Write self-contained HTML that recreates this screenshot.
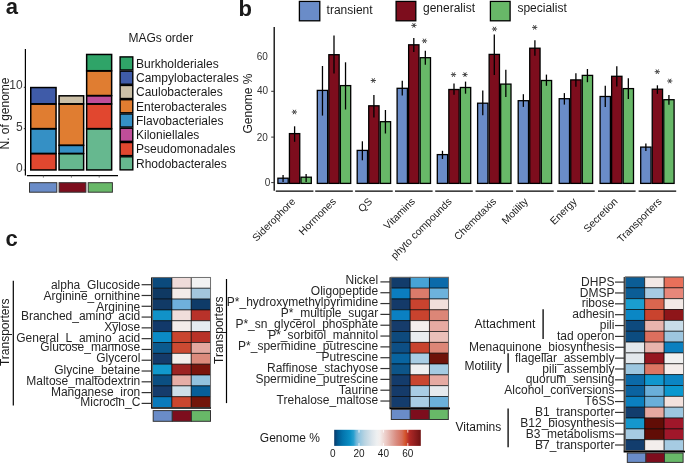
<!DOCTYPE html>
<html><head><meta charset="utf-8"><style>
html,body{margin:0;padding:0;background:#fff;width:685px;height:463px;overflow:hidden}
svg{display:block;will-change:transform}
text{font-family:"Liberation Sans", sans-serif}
</style></head><body>
<svg width="685" height="463" viewBox="0 0 685 463" font-family='"Liberation Sans", sans-serif'><text x="5.80" y="14.00" font-size="22" text-anchor="start" fill="#1a1a1a" font-weight="bold" >a</text>
<rect x="30.75" y="153.71" width="25.30" height="16.24" fill="#e1472f" stroke="#000" stroke-width="1.5"/>
<rect x="30.75" y="128.90" width="25.30" height="24.51" fill="#3590c5" stroke="#000" stroke-width="1.5"/>
<rect x="30.75" y="104.09" width="25.30" height="24.51" fill="#e07d31" stroke="#000" stroke-width="1.5"/>
<rect x="30.75" y="87.55" width="25.30" height="16.24" fill="#3f5ba8" stroke="#000" stroke-width="1.5"/>
<rect x="59.05" y="153.71" width="24.60" height="16.24" fill="#66b88f" stroke="#000" stroke-width="1.5"/>
<rect x="59.05" y="145.44" width="24.60" height="7.97" fill="#3590c5" stroke="#000" stroke-width="1.5"/>
<rect x="59.05" y="104.09" width="24.60" height="41.05" fill="#e07d31" stroke="#000" stroke-width="1.5"/>
<rect x="59.05" y="95.82" width="24.60" height="7.97" fill="#cbbfa6" stroke="#000" stroke-width="1.5"/>
<rect x="86.65" y="128.90" width="25.00" height="41.05" fill="#66b88f" stroke="#000" stroke-width="1.5"/>
<rect x="86.65" y="104.09" width="25.00" height="24.51" fill="#e1472f" stroke="#000" stroke-width="1.5"/>
<rect x="86.65" y="95.82" width="25.00" height="7.97" fill="#c04e99" stroke="#000" stroke-width="1.5"/>
<rect x="86.65" y="71.01" width="25.00" height="24.51" fill="#e07d31" stroke="#000" stroke-width="1.5"/>
<rect x="86.65" y="54.47" width="25.00" height="16.24" fill="#2fa468" stroke="#000" stroke-width="1.5"/>
<line x1="25.40" y1="49.00" x2="25.40" y2="175.40" stroke="#000" stroke-width="1.2"/>
<line x1="26.90" y1="175.70" x2="118.00" y2="175.70" stroke="#000" stroke-width="1.2"/>
<line x1="23.80" y1="170.00" x2="25.40" y2="170.00" stroke="#333" stroke-width="1"/>
<text x="22.60" y="172.10" font-size="12" text-anchor="end" fill="#3a3a3a" font-weight="normal" >0</text>
<line x1="23.80" y1="128.65" x2="25.40" y2="128.65" stroke="#333" stroke-width="1"/>
<text x="22.60" y="130.95" font-size="12" text-anchor="end" fill="#3a3a3a" font-weight="normal" >5</text>
<line x1="23.80" y1="87.30" x2="25.40" y2="87.30" stroke="#333" stroke-width="1"/>
<text x="22.60" y="88.60" font-size="12" text-anchor="end" fill="#3a3a3a" font-weight="normal" >10</text>
<line x1="43.40" y1="175.70" x2="43.40" y2="177.60" stroke="#555" stroke-width="0.8"/>
<line x1="71.40" y1="175.70" x2="71.40" y2="177.60" stroke="#555" stroke-width="0.8"/>
<line x1="99.20" y1="175.70" x2="99.20" y2="177.60" stroke="#555" stroke-width="0.8"/>
<text transform="translate(9.2,113.5) rotate(-90)" font-size="12" text-anchor="middle" fill="#1a1a1a">N. of genome</text>
<rect x="29.50" y="182.70" width="27.30" height="9.50" fill="#6a8cc8" stroke="#333" stroke-width="1"/>
<rect x="59.10" y="182.70" width="26.80" height="9.50" fill="#7d0d1d" stroke="#333" stroke-width="1"/>
<rect x="88.20" y="182.70" width="24.20" height="9.50" fill="#68b868" stroke="#333" stroke-width="1"/>
<text x="128.50" y="41.60" font-size="12" text-anchor="start" fill="#1a1a1a" font-weight="normal" >MAGs order</text>
<rect x="120.10" y="56.90" width="12.70" height="13.07" fill="#2fa468" stroke="#000" stroke-width="1.4"/>
<text x="136.00" y="67.73" font-size="12" text-anchor="start" fill="#1a1a1a" font-weight="normal" >Burkholderiales</text>
<rect x="120.10" y="71.17" width="12.70" height="13.07" fill="#3f5ba8" stroke="#000" stroke-width="1.4"/>
<text x="136.00" y="82.01" font-size="12" text-anchor="start" fill="#1a1a1a" font-weight="normal" >Campylobacterales</text>
<rect x="120.10" y="85.44" width="12.70" height="13.07" fill="#cbbfa6" stroke="#000" stroke-width="1.4"/>
<text x="136.00" y="96.28" font-size="12" text-anchor="start" fill="#1a1a1a" font-weight="normal" >Caulobacterales</text>
<rect x="120.10" y="99.71" width="12.70" height="13.07" fill="#e07d31" stroke="#000" stroke-width="1.4"/>
<text x="136.00" y="110.55" font-size="12" text-anchor="start" fill="#1a1a1a" font-weight="normal" >Enterobacterales</text>
<rect x="120.10" y="113.98" width="12.70" height="13.07" fill="#3590c5" stroke="#000" stroke-width="1.4"/>
<text x="136.00" y="124.82" font-size="12" text-anchor="start" fill="#1a1a1a" font-weight="normal" >Flavobacteriales</text>
<rect x="120.10" y="128.25" width="12.70" height="13.07" fill="#c04e99" stroke="#000" stroke-width="1.4"/>
<text x="136.00" y="139.09" font-size="12" text-anchor="start" fill="#1a1a1a" font-weight="normal" >Kiloniellales</text>
<rect x="120.10" y="142.52" width="12.70" height="13.07" fill="#e1472f" stroke="#000" stroke-width="1.4"/>
<text x="136.00" y="153.35" font-size="12" text-anchor="start" fill="#1a1a1a" font-weight="normal" >Pseudomonadales</text>
<rect x="120.10" y="156.79" width="12.70" height="13.07" fill="#66b88f" stroke="#000" stroke-width="1.4"/>
<text x="136.00" y="167.62" font-size="12" text-anchor="start" fill="#1a1a1a" font-weight="normal" >Rhodobacterales</text>
<text x="238.40" y="15.80" font-size="22" text-anchor="start" fill="#1a1a1a" font-weight="bold" >b</text>
<rect x="299.40" y="1.40" width="20.40" height="19.40" fill="#6a8cc8" stroke="#000" stroke-width="1.3"/>
<text x="326.60" y="13.90" font-size="12" text-anchor="start" fill="#1a1a1a" font-weight="normal" >transient</text>
<rect x="396.10" y="1.40" width="19.70" height="19.40" fill="#7d0d1d" stroke="#000" stroke-width="1.3"/>
<text x="423.00" y="12.40" font-size="12" text-anchor="start" fill="#1a1a1a" font-weight="normal" >generalist</text>
<rect x="490.40" y="1.40" width="19.70" height="19.40" fill="#68b868" stroke="#000" stroke-width="1.3"/>
<text x="517.40" y="12.40" font-size="12" text-anchor="start" fill="#1a1a1a" font-weight="normal" >specialist</text>
<line x1="274.20" y1="27.00" x2="274.20" y2="190.70" stroke="#000" stroke-width="1.3"/>
<line x1="271.20" y1="182.60" x2="274.20" y2="182.60" stroke="#333" stroke-width="1"/>
<text x="270.20" y="185.70" font-size="10" text-anchor="end" fill="#333" font-weight="normal" >0</text>
<line x1="271.20" y1="137.10" x2="274.20" y2="137.10" stroke="#333" stroke-width="1"/>
<text x="267.80" y="141.40" font-size="10" text-anchor="end" fill="#333" font-weight="normal" >20</text>
<line x1="271.20" y1="91.30" x2="274.20" y2="91.30" stroke="#333" stroke-width="1"/>
<text x="268.20" y="93.80" font-size="10" text-anchor="end" fill="#333" font-weight="normal" >40</text>
<text x="267.90" y="60.10" font-size="10" text-anchor="end" fill="#333" font-weight="normal" >60</text>
<text transform="translate(252.4,103.5) rotate(-90)" font-size="12" text-anchor="middle" fill="#1a1a1a">Genome %</text>
<rect x="277.90" y="178.20" width="10.33" height="5.20" fill="#6a8cc8" stroke="#000" stroke-width="1.3"/>
<rect x="289.43" y="133.60" width="10.33" height="49.80" fill="#7d0d1d" stroke="#000" stroke-width="1.3"/>
<rect x="300.97" y="177.20" width="10.33" height="6.20" fill="#68b868" stroke="#000" stroke-width="1.3"/>
<line x1="283.07" y1="175.00" x2="283.07" y2="182.00" stroke="#000" stroke-width="1.3"/>
<line x1="294.60" y1="126.30" x2="294.60" y2="141.80" stroke="#000" stroke-width="1.3"/>
<line x1="306.13" y1="173.90" x2="306.13" y2="182.00" stroke="#000" stroke-width="1.3"/>
<path d="M291.80,112.00L297.00,112.00M293.10,109.75L295.70,114.25M295.70,109.75L293.10,114.25" stroke="#444" stroke-width="1.0" fill="none"/>
<line x1="275.80" y1="191.10" x2="313.40" y2="191.10" stroke="#000" stroke-width="1.3"/>
<text transform="translate(296.10,202.20) rotate(-45)" font-size="10.3" text-anchor="end" fill="#222">Siderophore</text>
<rect x="317.30" y="90.40" width="10.33" height="93.00" fill="#6a8cc8" stroke="#000" stroke-width="1.3"/>
<rect x="328.83" y="54.70" width="10.33" height="128.70" fill="#7d0d1d" stroke="#000" stroke-width="1.3"/>
<rect x="340.37" y="85.60" width="10.33" height="97.80" fill="#68b868" stroke="#000" stroke-width="1.3"/>
<line x1="322.47" y1="66.00" x2="322.47" y2="115.60" stroke="#000" stroke-width="1.3"/>
<line x1="334.00" y1="35.60" x2="334.00" y2="73.50" stroke="#000" stroke-width="1.3"/>
<line x1="345.53" y1="62.30" x2="345.53" y2="109.50" stroke="#000" stroke-width="1.3"/>
<line x1="315.20" y1="191.10" x2="352.80" y2="191.10" stroke="#000" stroke-width="1.3"/>
<text transform="translate(336.60,202.20) rotate(-45)" font-size="10.3" text-anchor="end" fill="#222">Hormones</text>
<rect x="357.20" y="150.40" width="10.33" height="33.00" fill="#6a8cc8" stroke="#000" stroke-width="1.3"/>
<rect x="368.73" y="105.80" width="10.33" height="77.60" fill="#7d0d1d" stroke="#000" stroke-width="1.3"/>
<rect x="380.27" y="121.70" width="10.33" height="61.70" fill="#68b868" stroke="#000" stroke-width="1.3"/>
<line x1="362.37" y1="141.30" x2="362.37" y2="160.30" stroke="#000" stroke-width="1.3"/>
<line x1="373.90" y1="95.10" x2="373.90" y2="117.60" stroke="#000" stroke-width="1.3"/>
<line x1="385.43" y1="110.00" x2="385.43" y2="133.50" stroke="#000" stroke-width="1.3"/>
<path d="M370.70,80.50L375.90,80.50M372.00,78.25L374.60,82.75M374.60,78.25L372.00,82.75" stroke="#444" stroke-width="1.0" fill="none"/>
<line x1="355.10" y1="191.10" x2="392.70" y2="191.10" stroke="#000" stroke-width="1.3"/>
<text transform="translate(372.90,202.20) rotate(-45)" font-size="10.3" text-anchor="end" fill="#222">QS</text>
<rect x="397.10" y="88.30" width="10.33" height="95.10" fill="#6a8cc8" stroke="#000" stroke-width="1.3"/>
<rect x="408.63" y="44.80" width="10.33" height="138.60" fill="#7d0d1d" stroke="#000" stroke-width="1.3"/>
<rect x="420.17" y="57.70" width="10.33" height="125.70" fill="#68b868" stroke="#000" stroke-width="1.3"/>
<line x1="402.27" y1="80.80" x2="402.27" y2="95.60" stroke="#000" stroke-width="1.3"/>
<line x1="413.80" y1="38.10" x2="413.80" y2="52.10" stroke="#000" stroke-width="1.3"/>
<line x1="425.33" y1="50.70" x2="425.33" y2="64.80" stroke="#000" stroke-width="1.3"/>
<path d="M411.30,25.40L416.50,25.40M412.60,23.15L415.20,27.65M415.20,23.15L412.60,27.65" stroke="#444" stroke-width="1.0" fill="none"/>
<path d="M421.90,40.90L427.10,40.90M423.20,38.65L425.80,43.15M425.80,38.65L423.20,43.15" stroke="#444" stroke-width="1.0" fill="none"/>
<line x1="395.00" y1="191.10" x2="432.60" y2="191.10" stroke="#000" stroke-width="1.3"/>
<text transform="translate(415.60,202.20) rotate(-45)" font-size="10.3" text-anchor="end" fill="#222">Vitamins</text>
<rect x="437.30" y="154.60" width="10.33" height="28.80" fill="#6a8cc8" stroke="#000" stroke-width="1.3"/>
<rect x="448.83" y="89.50" width="10.33" height="93.90" fill="#7d0d1d" stroke="#000" stroke-width="1.3"/>
<rect x="460.37" y="87.50" width="10.33" height="95.90" fill="#68b868" stroke="#000" stroke-width="1.3"/>
<line x1="442.47" y1="150.80" x2="442.47" y2="159.00" stroke="#000" stroke-width="1.3"/>
<line x1="454.00" y1="83.60" x2="454.00" y2="94.80" stroke="#000" stroke-width="1.3"/>
<line x1="465.53" y1="81.60" x2="465.53" y2="93.70" stroke="#000" stroke-width="1.3"/>
<path d="M450.90,74.60L456.10,74.60M452.20,72.35L454.80,76.85M454.80,72.35L452.20,76.85" stroke="#444" stroke-width="1.0" fill="none"/>
<path d="M462.40,74.60L467.60,74.60M463.70,72.35L466.30,76.85M466.30,72.35L463.70,76.85" stroke="#444" stroke-width="1.0" fill="none"/>
<line x1="435.20" y1="191.10" x2="472.80" y2="191.10" stroke="#000" stroke-width="1.3"/>
<text transform="translate(452.50,202.20) rotate(-45)" font-size="10.3" text-anchor="end" fill="#222">phyto compounds</text>
<rect x="477.60" y="103.20" width="10.33" height="80.20" fill="#6a8cc8" stroke="#000" stroke-width="1.3"/>
<rect x="489.13" y="54.40" width="10.33" height="129.00" fill="#7d0d1d" stroke="#000" stroke-width="1.3"/>
<rect x="500.67" y="84.10" width="10.33" height="99.30" fill="#68b868" stroke="#000" stroke-width="1.3"/>
<line x1="482.77" y1="90.60" x2="482.77" y2="115.30" stroke="#000" stroke-width="1.3"/>
<line x1="494.30" y1="34.40" x2="494.30" y2="75.10" stroke="#000" stroke-width="1.3"/>
<line x1="505.83" y1="69.80" x2="505.83" y2="97.00" stroke="#000" stroke-width="1.3"/>
<path d="M491.90,29.00L497.10,29.00M493.20,26.75L495.80,31.25M495.80,26.75L493.20,31.25" stroke="#444" stroke-width="1.0" fill="none"/>
<line x1="475.50" y1="191.10" x2="513.10" y2="191.10" stroke="#000" stroke-width="1.3"/>
<text transform="translate(496.80,202.20) rotate(-45)" font-size="10.3" text-anchor="end" fill="#222">Chemotaxis</text>
<rect x="518.20" y="100.70" width="10.33" height="82.70" fill="#6a8cc8" stroke="#000" stroke-width="1.3"/>
<rect x="529.73" y="48.20" width="10.33" height="135.20" fill="#7d0d1d" stroke="#000" stroke-width="1.3"/>
<rect x="541.27" y="80.50" width="10.33" height="102.90" fill="#68b868" stroke="#000" stroke-width="1.3"/>
<line x1="523.37" y1="94.20" x2="523.37" y2="106.90" stroke="#000" stroke-width="1.3"/>
<line x1="534.90" y1="40.30" x2="534.90" y2="55.80" stroke="#000" stroke-width="1.3"/>
<line x1="546.43" y1="74.60" x2="546.43" y2="85.80" stroke="#000" stroke-width="1.3"/>
<path d="M532.10,27.40L537.30,27.40M533.40,25.15L536.00,29.65M536.00,25.15L533.40,29.65" stroke="#444" stroke-width="1.0" fill="none"/>
<line x1="516.10" y1="191.10" x2="553.70" y2="191.10" stroke="#000" stroke-width="1.3"/>
<text transform="translate(528.60,202.20) rotate(-45)" font-size="10.3" text-anchor="end" fill="#222">Motility</text>
<rect x="559.20" y="98.70" width="10.33" height="84.70" fill="#6a8cc8" stroke="#000" stroke-width="1.3"/>
<rect x="570.73" y="79.90" width="10.33" height="103.50" fill="#7d0d1d" stroke="#000" stroke-width="1.3"/>
<rect x="582.27" y="75.40" width="10.33" height="108.00" fill="#68b868" stroke="#000" stroke-width="1.3"/>
<line x1="564.37" y1="93.10" x2="564.37" y2="104.60" stroke="#000" stroke-width="1.3"/>
<line x1="575.90" y1="73.20" x2="575.90" y2="86.70" stroke="#000" stroke-width="1.3"/>
<line x1="587.43" y1="69.00" x2="587.43" y2="82.20" stroke="#000" stroke-width="1.3"/>
<line x1="557.10" y1="191.10" x2="594.70" y2="191.10" stroke="#000" stroke-width="1.3"/>
<text transform="translate(577.40,202.20) rotate(-45)" font-size="10.3" text-anchor="end" fill="#222">Energy</text>
<rect x="600.10" y="96.50" width="10.33" height="86.90" fill="#6a8cc8" stroke="#000" stroke-width="1.3"/>
<rect x="611.63" y="76.30" width="10.33" height="107.10" fill="#7d0d1d" stroke="#000" stroke-width="1.3"/>
<rect x="623.17" y="88.60" width="10.33" height="94.80" fill="#68b868" stroke="#000" stroke-width="1.3"/>
<line x1="605.27" y1="85.80" x2="605.27" y2="106.90" stroke="#000" stroke-width="1.3"/>
<line x1="616.80" y1="66.20" x2="616.80" y2="86.40" stroke="#000" stroke-width="1.3"/>
<line x1="628.33" y1="78.20" x2="628.33" y2="99.00" stroke="#000" stroke-width="1.3"/>
<line x1="598.00" y1="191.10" x2="635.60" y2="191.10" stroke="#000" stroke-width="1.3"/>
<text transform="translate(618.40,202.20) rotate(-45)" font-size="10.3" text-anchor="end" fill="#222">Secretion</text>
<rect x="640.70" y="147.10" width="10.33" height="36.30" fill="#6a8cc8" stroke="#000" stroke-width="1.3"/>
<rect x="652.23" y="89.20" width="10.33" height="94.20" fill="#7d0d1d" stroke="#000" stroke-width="1.3"/>
<rect x="663.77" y="99.70" width="10.33" height="83.70" fill="#68b868" stroke="#000" stroke-width="1.3"/>
<line x1="645.87" y1="143.60" x2="645.87" y2="151.00" stroke="#000" stroke-width="1.3"/>
<line x1="657.40" y1="85.30" x2="657.40" y2="93.90" stroke="#000" stroke-width="1.3"/>
<line x1="668.93" y1="95.00" x2="668.93" y2="104.80" stroke="#000" stroke-width="1.3"/>
<path d="M654.70,71.70L659.90,71.70M656.00,69.45L658.60,73.95M658.60,69.45L656.00,73.95" stroke="#444" stroke-width="1.0" fill="none"/>
<path d="M667.20,81.00L672.40,81.00M668.50,78.75L671.10,83.25M671.10,78.75L668.50,83.25" stroke="#444" stroke-width="1.0" fill="none"/>
<line x1="638.60" y1="191.10" x2="676.20" y2="191.10" stroke="#000" stroke-width="1.3"/>
<text transform="translate(662.40,202.20) rotate(-45)" font-size="10.3" text-anchor="end" fill="#222">Transporters</text>
<text x="5.50" y="246.10" font-size="22" text-anchor="start" fill="#1a1a1a" font-weight="bold" >c</text>
<rect x="152.60" y="277.40" width="19.33" height="10.85" fill="#0b4a7c" stroke="rgba(0,0,0,0.7)" stroke-width="0.85"/>
<rect x="171.93" y="277.40" width="19.33" height="10.85" fill="#eedbd9" stroke="rgba(0,0,0,0.7)" stroke-width="0.85"/>
<rect x="191.27" y="277.40" width="19.33" height="10.85" fill="#f2f2f2" stroke="rgba(0,0,0,0.7)" stroke-width="0.85"/>
<rect x="152.60" y="288.25" width="19.33" height="10.85" fill="#0f3963" stroke="rgba(0,0,0,0.7)" stroke-width="0.85"/>
<rect x="171.93" y="288.25" width="19.33" height="10.85" fill="#f3ece9" stroke="rgba(0,0,0,0.7)" stroke-width="0.85"/>
<rect x="191.27" y="288.25" width="19.33" height="10.85" fill="#a3c6dc" stroke="rgba(0,0,0,0.7)" stroke-width="0.85"/>
<rect x="152.60" y="299.10" width="19.33" height="10.85" fill="#113a66" stroke="rgba(0,0,0,0.7)" stroke-width="0.85"/>
<rect x="171.93" y="299.10" width="19.33" height="10.85" fill="#6fb0dc" stroke="rgba(0,0,0,0.7)" stroke-width="0.85"/>
<rect x="191.27" y="299.10" width="19.33" height="10.85" fill="#0f3b68" stroke="rgba(0,0,0,0.7)" stroke-width="0.85"/>
<rect x="152.60" y="309.95" width="19.33" height="10.85" fill="#1192c8" stroke="rgba(0,0,0,0.7)" stroke-width="0.85"/>
<rect x="171.93" y="309.95" width="19.33" height="10.85" fill="#f0dedb" stroke="rgba(0,0,0,0.7)" stroke-width="0.85"/>
<rect x="191.27" y="309.95" width="19.33" height="10.85" fill="#b8322a" stroke="rgba(0,0,0,0.7)" stroke-width="0.85"/>
<rect x="152.60" y="320.80" width="19.33" height="10.85" fill="#12396a" stroke="rgba(0,0,0,0.7)" stroke-width="0.85"/>
<rect x="171.93" y="320.80" width="19.33" height="10.85" fill="#f3ecea" stroke="rgba(0,0,0,0.7)" stroke-width="0.85"/>
<rect x="191.27" y="320.80" width="19.33" height="10.85" fill="#e5ebf0" stroke="rgba(0,0,0,0.7)" stroke-width="0.85"/>
<rect x="152.60" y="331.65" width="19.33" height="10.85" fill="#0b8bc6" stroke="rgba(0,0,0,0.7)" stroke-width="0.85"/>
<rect x="171.93" y="331.65" width="19.33" height="10.85" fill="#c9452f" stroke="rgba(0,0,0,0.7)" stroke-width="0.85"/>
<rect x="191.27" y="331.65" width="19.33" height="10.85" fill="#b83228" stroke="rgba(0,0,0,0.7)" stroke-width="0.85"/>
<rect x="152.60" y="342.50" width="19.33" height="10.85" fill="#0b5a8e" stroke="rgba(0,0,0,0.7)" stroke-width="0.85"/>
<rect x="171.93" y="342.50" width="19.33" height="10.85" fill="#cc4a32" stroke="rgba(0,0,0,0.7)" stroke-width="0.85"/>
<rect x="191.27" y="342.50" width="19.33" height="10.85" fill="#e3a8a0" stroke="rgba(0,0,0,0.7)" stroke-width="0.85"/>
<rect x="152.60" y="353.35" width="19.33" height="10.85" fill="#153b6a" stroke="rgba(0,0,0,0.7)" stroke-width="0.85"/>
<rect x="171.93" y="353.35" width="19.33" height="10.85" fill="#f3eeec" stroke="rgba(0,0,0,0.7)" stroke-width="0.85"/>
<rect x="191.27" y="353.35" width="19.33" height="10.85" fill="#dc8a7c" stroke="rgba(0,0,0,0.7)" stroke-width="0.85"/>
<rect x="152.60" y="364.20" width="19.33" height="10.85" fill="#1199cc" stroke="rgba(0,0,0,0.7)" stroke-width="0.85"/>
<rect x="171.93" y="364.20" width="19.33" height="10.85" fill="#9c2323" stroke="rgba(0,0,0,0.7)" stroke-width="0.85"/>
<rect x="191.27" y="364.20" width="19.33" height="10.85" fill="#7a140c" stroke="rgba(0,0,0,0.7)" stroke-width="0.85"/>
<rect x="152.60" y="375.05" width="19.33" height="10.85" fill="#0b4f82" stroke="rgba(0,0,0,0.7)" stroke-width="0.85"/>
<rect x="171.93" y="375.05" width="19.33" height="10.85" fill="#e6aea7" stroke="rgba(0,0,0,0.7)" stroke-width="0.85"/>
<rect x="191.27" y="375.05" width="19.33" height="10.85" fill="#92c2de" stroke="rgba(0,0,0,0.7)" stroke-width="0.85"/>
<rect x="152.60" y="385.90" width="19.33" height="10.85" fill="#163c6c" stroke="rgba(0,0,0,0.7)" stroke-width="0.85"/>
<rect x="171.93" y="385.90" width="19.33" height="10.85" fill="#cddfe9" stroke="rgba(0,0,0,0.7)" stroke-width="0.85"/>
<rect x="191.27" y="385.90" width="19.33" height="10.85" fill="#075f98" stroke="rgba(0,0,0,0.7)" stroke-width="0.85"/>
<rect x="152.60" y="396.75" width="19.33" height="10.85" fill="#0a7abb" stroke="rgba(0,0,0,0.7)" stroke-width="0.85"/>
<rect x="171.93" y="396.75" width="19.33" height="10.85" fill="#c9462f" stroke="rgba(0,0,0,0.7)" stroke-width="0.85"/>
<rect x="191.27" y="396.75" width="19.33" height="10.85" fill="#72150a" stroke="rgba(0,0,0,0.7)" stroke-width="0.85"/>
<rect x="152.60" y="277.40" width="58.00" height="130.20" fill="none" stroke="#777" stroke-width="0.8"/>
<line x1="151.60" y1="277.40" x2="151.60" y2="408.10" stroke="#000" stroke-width="1"/>
<line x1="141.60" y1="284.70" x2="151.60" y2="284.70" stroke="#333" stroke-width="1.2"/>
<text x="140.30" y="289.00" font-size="12" text-anchor="end" fill="#262626" font-weight="normal" >alpha_Glucoside</text>
<line x1="141.60" y1="295.49" x2="151.60" y2="295.49" stroke="#333" stroke-width="1.2"/>
<text x="140.30" y="299.79" font-size="12" text-anchor="end" fill="#262626" font-weight="normal" >Arginine_ornithine</text>
<line x1="141.60" y1="306.28" x2="151.60" y2="306.28" stroke="#333" stroke-width="1.2"/>
<text x="140.30" y="310.58" font-size="12" text-anchor="end" fill="#262626" font-weight="normal" >Arginine</text>
<line x1="141.60" y1="317.07" x2="151.60" y2="317.07" stroke="#333" stroke-width="1.2"/>
<text x="140.30" y="320.37" font-size="12" text-anchor="end" fill="#262626" font-weight="normal" >Branched_amino_acid</text>
<line x1="141.60" y1="327.86" x2="151.60" y2="327.86" stroke="#333" stroke-width="1.2"/>
<text x="140.30" y="331.06" font-size="12" text-anchor="end" fill="#262626" font-weight="normal" >Xylose</text>
<line x1="141.60" y1="338.65" x2="151.60" y2="338.65" stroke="#333" stroke-width="1.2"/>
<text x="140.30" y="342.15" font-size="12" text-anchor="end" fill="#262626" font-weight="normal" >General_L_amino_acid</text>
<line x1="141.60" y1="349.44" x2="151.60" y2="349.44" stroke="#333" stroke-width="1.2"/>
<text x="140.30" y="351.44" font-size="12" text-anchor="end" fill="#262626" font-weight="normal" >Glucose_mannose</text>
<line x1="141.60" y1="360.23" x2="151.60" y2="360.23" stroke="#333" stroke-width="1.2"/>
<text x="140.30" y="362.33" font-size="12" text-anchor="end" fill="#262626" font-weight="normal" >Glycerol</text>
<line x1="141.60" y1="371.02" x2="151.60" y2="371.02" stroke="#333" stroke-width="1.2"/>
<text x="140.30" y="374.32" font-size="12" text-anchor="end" fill="#262626" font-weight="normal" >Glycine_betaine</text>
<line x1="141.60" y1="381.81" x2="151.60" y2="381.81" stroke="#333" stroke-width="1.2"/>
<text x="140.30" y="385.11" font-size="12" text-anchor="end" fill="#262626" font-weight="normal" >Maltose_maltodextrin</text>
<line x1="141.60" y1="392.60" x2="151.60" y2="392.60" stroke="#333" stroke-width="1.2"/>
<text x="140.30" y="395.80" font-size="12" text-anchor="end" fill="#262626" font-weight="normal" >Manganese_iron</text>
<line x1="141.60" y1="403.39" x2="151.60" y2="403.39" stroke="#333" stroke-width="1.2"/>
<text x="140.30" y="406.19" font-size="12" text-anchor="end" fill="#262626" font-weight="normal" >Microcin_C</text>
<line x1="151.20" y1="408.10" x2="211.00" y2="408.10" stroke="#000" stroke-width="1.2"/>
<rect x="153.20" y="410.60" width="19.10" height="10.70" fill="#6a8cc8" stroke="#333" stroke-width="1"/>
<rect x="172.30" y="410.60" width="19.10" height="10.70" fill="#7d0d1d" stroke="#333" stroke-width="1"/>
<rect x="191.40" y="410.60" width="19.10" height="10.70" fill="#68b868" stroke="#333" stroke-width="1"/>
<text transform="translate(9.0,332.3) rotate(-90)" font-size="12" text-anchor="middle" fill="#1a1a1a">Transporters</text>
<line x1="13.30" y1="280.70" x2="13.30" y2="405.50" stroke="#000" stroke-width="1.2"/>
<rect x="391.00" y="277.30" width="19.20" height="10.84" fill="#123c6b" stroke="rgba(0,0,0,0.7)" stroke-width="0.85"/>
<rect x="410.20" y="277.30" width="19.20" height="10.84" fill="#47a3d6" stroke="rgba(0,0,0,0.7)" stroke-width="0.85"/>
<rect x="429.40" y="277.30" width="19.20" height="10.84" fill="#0b6aaa" stroke="rgba(0,0,0,0.7)" stroke-width="0.85"/>
<rect x="391.00" y="288.14" width="19.20" height="10.84" fill="#0b7dc0" stroke="rgba(0,0,0,0.7)" stroke-width="0.85"/>
<rect x="410.20" y="288.14" width="19.20" height="10.84" fill="#da7b6b" stroke="rgba(0,0,0,0.7)" stroke-width="0.85"/>
<rect x="429.40" y="288.14" width="19.20" height="10.84" fill="#6db2dc" stroke="rgba(0,0,0,0.7)" stroke-width="0.85"/>
<rect x="391.00" y="298.98" width="19.20" height="10.84" fill="#143a69" stroke="rgba(0,0,0,0.7)" stroke-width="0.85"/>
<rect x="410.20" y="298.98" width="19.20" height="10.84" fill="#c9432f" stroke="rgba(0,0,0,0.7)" stroke-width="0.85"/>
<rect x="429.40" y="298.98" width="19.20" height="10.84" fill="#f1dfdb" stroke="rgba(0,0,0,0.7)" stroke-width="0.85"/>
<rect x="391.00" y="309.82" width="19.20" height="10.84" fill="#0a80c2" stroke="rgba(0,0,0,0.7)" stroke-width="0.85"/>
<rect x="410.20" y="309.82" width="19.20" height="10.84" fill="#c8432e" stroke="rgba(0,0,0,0.7)" stroke-width="0.85"/>
<rect x="429.40" y="309.82" width="19.20" height="10.84" fill="#dc8677" stroke="rgba(0,0,0,0.7)" stroke-width="0.85"/>
<rect x="391.00" y="320.67" width="19.20" height="10.84" fill="#163c6b" stroke="rgba(0,0,0,0.7)" stroke-width="0.85"/>
<rect x="410.20" y="320.67" width="19.20" height="10.84" fill="#f3eeec" stroke="rgba(0,0,0,0.7)" stroke-width="0.85"/>
<rect x="429.40" y="320.67" width="19.20" height="10.84" fill="#e7aaa2" stroke="rgba(0,0,0,0.7)" stroke-width="0.85"/>
<rect x="391.00" y="331.51" width="19.20" height="10.84" fill="#0e4a7d" stroke="rgba(0,0,0,0.7)" stroke-width="0.85"/>
<rect x="410.20" y="331.51" width="19.20" height="10.84" fill="#e9edef" stroke="rgba(0,0,0,0.7)" stroke-width="0.85"/>
<rect x="429.40" y="331.51" width="19.20" height="10.84" fill="#ebc0b9" stroke="rgba(0,0,0,0.7)" stroke-width="0.85"/>
<rect x="391.00" y="342.35" width="19.20" height="10.84" fill="#0d4f85" stroke="rgba(0,0,0,0.7)" stroke-width="0.85"/>
<rect x="410.20" y="342.35" width="19.20" height="10.84" fill="#c8432e" stroke="rgba(0,0,0,0.7)" stroke-width="0.85"/>
<rect x="429.40" y="342.35" width="19.20" height="10.84" fill="#dc8677" stroke="rgba(0,0,0,0.7)" stroke-width="0.85"/>
<rect x="391.00" y="353.19" width="19.20" height="10.84" fill="#0864a0" stroke="rgba(0,0,0,0.7)" stroke-width="0.85"/>
<rect x="410.20" y="353.19" width="19.20" height="10.84" fill="#a9cde3" stroke="rgba(0,0,0,0.7)" stroke-width="0.85"/>
<rect x="429.40" y="353.19" width="19.20" height="10.84" fill="#6e130a" stroke="rgba(0,0,0,0.7)" stroke-width="0.85"/>
<rect x="391.00" y="364.03" width="19.20" height="10.84" fill="#0d5589" stroke="rgba(0,0,0,0.7)" stroke-width="0.85"/>
<rect x="410.20" y="364.03" width="19.20" height="10.84" fill="#f0f0f0" stroke="rgba(0,0,0,0.7)" stroke-width="0.85"/>
<rect x="429.40" y="364.03" width="19.20" height="10.84" fill="#a5cbe2" stroke="rgba(0,0,0,0.7)" stroke-width="0.85"/>
<rect x="391.00" y="374.88" width="19.20" height="10.84" fill="#143c6c" stroke="rgba(0,0,0,0.7)" stroke-width="0.85"/>
<rect x="410.20" y="374.88" width="19.20" height="10.84" fill="#c9462f" stroke="rgba(0,0,0,0.7)" stroke-width="0.85"/>
<rect x="429.40" y="374.88" width="19.20" height="10.84" fill="#e6aaa2" stroke="rgba(0,0,0,0.7)" stroke-width="0.85"/>
<rect x="391.00" y="385.72" width="19.20" height="10.84" fill="#153b6a" stroke="rgba(0,0,0,0.7)" stroke-width="0.85"/>
<rect x="410.20" y="385.72" width="19.20" height="10.84" fill="#a9cde3" stroke="rgba(0,0,0,0.7)" stroke-width="0.85"/>
<rect x="429.40" y="385.72" width="19.20" height="10.84" fill="#e6eaee" stroke="rgba(0,0,0,0.7)" stroke-width="0.85"/>
<rect x="391.00" y="396.56" width="19.20" height="10.84" fill="#143c6c" stroke="rgba(0,0,0,0.7)" stroke-width="0.85"/>
<rect x="410.20" y="396.56" width="19.20" height="10.84" fill="#a9cde3" stroke="rgba(0,0,0,0.7)" stroke-width="0.85"/>
<rect x="429.40" y="396.56" width="19.20" height="10.84" fill="#6cb0da" stroke="rgba(0,0,0,0.7)" stroke-width="0.85"/>
<rect x="391.00" y="277.30" width="57.60" height="130.10" fill="none" stroke="#777" stroke-width="0.8"/>
<line x1="390.00" y1="277.30" x2="390.00" y2="407.90" stroke="#000" stroke-width="1"/>
<line x1="380.40" y1="281.90" x2="390.00" y2="281.90" stroke="#333" stroke-width="1.2"/>
<text x="378.20" y="284.10" font-size="12" text-anchor="end" fill="#262626" font-weight="normal" >Nickel</text>
<line x1="380.40" y1="292.73" x2="390.00" y2="292.73" stroke="#333" stroke-width="1.2"/>
<text x="378.20" y="294.93" font-size="12" text-anchor="end" fill="#262626" font-weight="normal" >Oligopeptide</text>
<line x1="380.40" y1="303.56" x2="390.00" y2="303.56" stroke="#333" stroke-width="1.2"/>
<text x="378.20" y="305.76" font-size="12" text-anchor="end" fill="#262626" font-weight="normal" >P*_hydroxymethylpyrimidine</text>
<line x1="380.40" y1="314.39" x2="390.00" y2="314.39" stroke="#333" stroke-width="1.2"/>
<text x="378.20" y="316.89" font-size="12" text-anchor="end" fill="#262626" font-weight="normal" >P*_multiple_sugar</text>
<line x1="380.40" y1="325.22" x2="390.00" y2="325.22" stroke="#333" stroke-width="1.2"/>
<text x="378.20" y="327.92" font-size="12" text-anchor="end" fill="#262626" font-weight="normal" >P*_sn_glycerol_phosphate</text>
<line x1="380.40" y1="336.05" x2="390.00" y2="336.05" stroke="#333" stroke-width="1.2"/>
<text x="378.20" y="338.75" font-size="12" text-anchor="end" fill="#262626" font-weight="normal" >P*_sorbitol_mannitol</text>
<line x1="380.40" y1="346.88" x2="390.00" y2="346.88" stroke="#333" stroke-width="1.2"/>
<text x="378.20" y="349.78" font-size="12" text-anchor="end" fill="#262626" font-weight="normal" >P*_spermidine_putrescine</text>
<line x1="380.40" y1="357.71" x2="390.00" y2="357.71" stroke="#333" stroke-width="1.2"/>
<text x="378.20" y="360.71" font-size="12" text-anchor="end" fill="#262626" font-weight="normal" >Putrescine</text>
<line x1="380.40" y1="368.54" x2="390.00" y2="368.54" stroke="#333" stroke-width="1.2"/>
<text x="378.20" y="372.04" font-size="12" text-anchor="end" fill="#262626" font-weight="normal" >Raffinose_stachyose</text>
<line x1="380.40" y1="379.37" x2="390.00" y2="379.37" stroke="#333" stroke-width="1.2"/>
<text x="378.20" y="382.57" font-size="12" text-anchor="end" fill="#262626" font-weight="normal" >Spermidine_putrescine</text>
<line x1="380.40" y1="390.20" x2="390.00" y2="390.20" stroke="#333" stroke-width="1.2"/>
<text x="378.20" y="393.70" font-size="12" text-anchor="end" fill="#262626" font-weight="normal" >Taurine</text>
<line x1="380.40" y1="401.03" x2="390.00" y2="401.03" stroke="#333" stroke-width="1.2"/>
<text x="378.20" y="403.83" font-size="12" text-anchor="end" fill="#262626" font-weight="normal" >Trehalose_maltose</text>
<line x1="389.50" y1="408.40" x2="450.00" y2="408.40" stroke="#000" stroke-width="1.6"/>
<rect x="391.30" y="409.40" width="19.00" height="10.10" fill="#6a8cc8" stroke="#333" stroke-width="1"/>
<rect x="410.30" y="409.40" width="19.00" height="10.10" fill="#7d0d1d" stroke="#333" stroke-width="1"/>
<rect x="429.30" y="409.40" width="19.00" height="10.10" fill="#68b868" stroke="#333" stroke-width="1"/>
<text transform="translate(223.0,330.2) rotate(-90)" font-size="12" text-anchor="middle" fill="#1a1a1a">Transporters</text>
<line x1="226.50" y1="279.00" x2="226.50" y2="403.10" stroke="#000" stroke-width="1.2"/>
<rect x="625.30" y="277.00" width="19.43" height="10.85" fill="#0b5d96" stroke="rgba(0,0,0,0.7)" stroke-width="0.85"/>
<rect x="644.73" y="277.00" width="19.43" height="10.85" fill="#f3e9e6" stroke="rgba(0,0,0,0.7)" stroke-width="0.85"/>
<rect x="664.17" y="277.00" width="19.43" height="10.85" fill="#e8705a" stroke="rgba(0,0,0,0.7)" stroke-width="0.85"/>
<rect x="625.30" y="287.85" width="19.43" height="10.85" fill="#0b5d96" stroke="rgba(0,0,0,0.7)" stroke-width="0.85"/>
<rect x="644.73" y="287.85" width="19.43" height="10.85" fill="#a6cbe2" stroke="rgba(0,0,0,0.7)" stroke-width="0.85"/>
<rect x="664.17" y="287.85" width="19.43" height="10.85" fill="#e8877a" stroke="rgba(0,0,0,0.7)" stroke-width="0.85"/>
<rect x="625.30" y="298.70" width="19.43" height="10.85" fill="#1a9ed0" stroke="rgba(0,0,0,0.7)" stroke-width="0.85"/>
<rect x="644.73" y="298.70" width="19.43" height="10.85" fill="#d9664f" stroke="rgba(0,0,0,0.7)" stroke-width="0.85"/>
<rect x="664.17" y="298.70" width="19.43" height="10.85" fill="#f3e9e6" stroke="rgba(0,0,0,0.7)" stroke-width="0.85"/>
<rect x="625.30" y="309.55" width="19.43" height="10.85" fill="#0b87c5" stroke="rgba(0,0,0,0.7)" stroke-width="0.85"/>
<rect x="644.73" y="309.55" width="19.43" height="10.85" fill="#c9432e" stroke="rgba(0,0,0,0.7)" stroke-width="0.85"/>
<rect x="664.17" y="309.55" width="19.43" height="10.85" fill="#8e1519" stroke="rgba(0,0,0,0.7)" stroke-width="0.85"/>
<rect x="625.30" y="320.40" width="19.43" height="10.85" fill="#0e4a7e" stroke="rgba(0,0,0,0.7)" stroke-width="0.85"/>
<rect x="644.73" y="320.40" width="19.43" height="10.85" fill="#e8b4ad" stroke="rgba(0,0,0,0.7)" stroke-width="0.85"/>
<rect x="664.17" y="320.40" width="19.43" height="10.85" fill="#c8dce8" stroke="rgba(0,0,0,0.7)" stroke-width="0.85"/>
<rect x="625.30" y="331.25" width="19.43" height="10.85" fill="#0c4c80" stroke="rgba(0,0,0,0.7)" stroke-width="0.85"/>
<rect x="644.73" y="331.25" width="19.43" height="10.85" fill="#dc6f5e" stroke="rgba(0,0,0,0.7)" stroke-width="0.85"/>
<rect x="664.17" y="331.25" width="19.43" height="10.85" fill="#9ec6df" stroke="rgba(0,0,0,0.7)" stroke-width="0.85"/>
<rect x="625.30" y="342.10" width="19.43" height="10.85" fill="#e3e8ec" stroke="rgba(0,0,0,0.7)" stroke-width="0.85"/>
<rect x="644.73" y="342.10" width="19.43" height="10.85" fill="#e8b4ad" stroke="rgba(0,0,0,0.7)" stroke-width="0.85"/>
<rect x="664.17" y="342.10" width="19.43" height="10.85" fill="#0b80c0" stroke="rgba(0,0,0,0.7)" stroke-width="0.85"/>
<rect x="625.30" y="352.95" width="19.43" height="10.85" fill="#e3e8ec" stroke="rgba(0,0,0,0.7)" stroke-width="0.85"/>
<rect x="644.73" y="352.95" width="19.43" height="10.85" fill="#961620" stroke="rgba(0,0,0,0.7)" stroke-width="0.85"/>
<rect x="664.17" y="352.95" width="19.43" height="10.85" fill="#f0f0f0" stroke="rgba(0,0,0,0.7)" stroke-width="0.85"/>
<rect x="625.30" y="363.80" width="19.43" height="10.85" fill="#9cc6df" stroke="rgba(0,0,0,0.7)" stroke-width="0.85"/>
<rect x="644.73" y="363.80" width="19.43" height="10.85" fill="#dc7563" stroke="rgba(0,0,0,0.7)" stroke-width="0.85"/>
<rect x="664.17" y="363.80" width="19.43" height="10.85" fill="#f3ecea" stroke="rgba(0,0,0,0.7)" stroke-width="0.85"/>
<rect x="625.30" y="374.65" width="19.43" height="10.85" fill="#0b6aa8" stroke="rgba(0,0,0,0.7)" stroke-width="0.85"/>
<rect x="644.73" y="374.65" width="19.43" height="10.85" fill="#1097ce" stroke="rgba(0,0,0,0.7)" stroke-width="0.85"/>
<rect x="664.17" y="374.65" width="19.43" height="10.85" fill="#0b85c3" stroke="rgba(0,0,0,0.7)" stroke-width="0.85"/>
<rect x="625.30" y="385.50" width="19.43" height="10.85" fill="#0b63a0" stroke="rgba(0,0,0,0.7)" stroke-width="0.85"/>
<rect x="644.73" y="385.50" width="19.43" height="10.85" fill="#6aafd9" stroke="rgba(0,0,0,0.7)" stroke-width="0.85"/>
<rect x="664.17" y="385.50" width="19.43" height="10.85" fill="#0b98cf" stroke="rgba(0,0,0,0.7)" stroke-width="0.85"/>
<rect x="625.30" y="396.35" width="19.43" height="10.85" fill="#0b80c0" stroke="rgba(0,0,0,0.7)" stroke-width="0.85"/>
<rect x="644.73" y="396.35" width="19.43" height="10.85" fill="#6aafd9" stroke="rgba(0,0,0,0.7)" stroke-width="0.85"/>
<rect x="664.17" y="396.35" width="19.43" height="10.85" fill="#f3e2de" stroke="rgba(0,0,0,0.7)" stroke-width="0.85"/>
<rect x="625.30" y="407.20" width="19.43" height="10.85" fill="#123d6d" stroke="rgba(0,0,0,0.7)" stroke-width="0.85"/>
<rect x="644.73" y="407.20" width="19.43" height="10.85" fill="#e6a8a0" stroke="rgba(0,0,0,0.7)" stroke-width="0.85"/>
<rect x="664.17" y="407.20" width="19.43" height="10.85" fill="#9dc6df" stroke="rgba(0,0,0,0.7)" stroke-width="0.85"/>
<rect x="625.30" y="418.05" width="19.43" height="10.85" fill="#1597cd" stroke="rgba(0,0,0,0.7)" stroke-width="0.85"/>
<rect x="644.73" y="418.05" width="19.43" height="10.85" fill="#610d06" stroke="rgba(0,0,0,0.7)" stroke-width="0.85"/>
<rect x="664.17" y="418.05" width="19.43" height="10.85" fill="#a0172a" stroke="rgba(0,0,0,0.7)" stroke-width="0.85"/>
<rect x="625.30" y="428.90" width="19.43" height="10.85" fill="#a6cbe2" stroke="rgba(0,0,0,0.7)" stroke-width="0.85"/>
<rect x="644.73" y="428.90" width="19.43" height="10.85" fill="#610d06" stroke="rgba(0,0,0,0.7)" stroke-width="0.85"/>
<rect x="664.17" y="428.90" width="19.43" height="10.85" fill="#a0172a" stroke="rgba(0,0,0,0.7)" stroke-width="0.85"/>
<rect x="625.30" y="439.75" width="19.43" height="10.85" fill="#123d6d" stroke="rgba(0,0,0,0.7)" stroke-width="0.85"/>
<rect x="644.73" y="439.75" width="19.43" height="10.85" fill="#f3eeec" stroke="rgba(0,0,0,0.7)" stroke-width="0.85"/>
<rect x="664.17" y="439.75" width="19.43" height="10.85" fill="#a6cbe2" stroke="rgba(0,0,0,0.7)" stroke-width="0.85"/>
<rect x="625.30" y="277.00" width="58.30" height="173.60" fill="none" stroke="#777" stroke-width="0.8"/>
<line x1="624.20" y1="277.00" x2="624.20" y2="451.10" stroke="#000" stroke-width="1"/>
<line x1="615.00" y1="282.10" x2="624.20" y2="282.10" stroke="#333" stroke-width="1.2"/>
<text x="614.40" y="285.70" font-size="12" text-anchor="end" fill="#262626" font-weight="normal" >DHPS</text>
<line x1="615.00" y1="292.96" x2="624.20" y2="292.96" stroke="#333" stroke-width="1.2"/>
<text x="614.40" y="296.56" font-size="12" text-anchor="end" fill="#262626" font-weight="normal" >DMSP</text>
<line x1="615.00" y1="303.82" x2="624.20" y2="303.82" stroke="#333" stroke-width="1.2"/>
<text x="614.40" y="307.42" font-size="12" text-anchor="end" fill="#262626" font-weight="normal" >ribose</text>
<line x1="615.00" y1="314.68" x2="624.20" y2="314.68" stroke="#333" stroke-width="1.2"/>
<text x="614.40" y="318.28" font-size="12" text-anchor="end" fill="#262626" font-weight="normal" >adhesin</text>
<line x1="615.00" y1="325.54" x2="624.20" y2="325.54" stroke="#333" stroke-width="1.2"/>
<text x="614.40" y="329.14" font-size="12" text-anchor="end" fill="#262626" font-weight="normal" >pili</text>
<line x1="615.00" y1="336.40" x2="624.20" y2="336.40" stroke="#333" stroke-width="1.2"/>
<text x="614.40" y="340.00" font-size="12" text-anchor="end" fill="#262626" font-weight="normal" >tad operon</text>
<line x1="615.00" y1="347.26" x2="624.20" y2="347.26" stroke="#333" stroke-width="1.2"/>
<text x="614.40" y="350.86" font-size="12" text-anchor="end" fill="#262626" font-weight="normal" >Menaquinone_biosynthesis</text>
<line x1="615.00" y1="358.12" x2="624.20" y2="358.12" stroke="#333" stroke-width="1.2"/>
<text x="614.40" y="361.72" font-size="12" text-anchor="end" fill="#262626" font-weight="normal" >flagellar_assembly</text>
<line x1="615.00" y1="368.98" x2="624.20" y2="368.98" stroke="#333" stroke-width="1.2"/>
<text x="614.40" y="372.58" font-size="12" text-anchor="end" fill="#262626" font-weight="normal" >pili_assembly</text>
<line x1="615.00" y1="379.84" x2="624.20" y2="379.84" stroke="#333" stroke-width="1.2"/>
<text x="614.40" y="383.44" font-size="12" text-anchor="end" fill="#262626" font-weight="normal" >quorum_sensing</text>
<line x1="615.00" y1="390.70" x2="624.20" y2="390.70" stroke="#333" stroke-width="1.2"/>
<text x="614.40" y="394.30" font-size="12" text-anchor="end" fill="#262626" font-weight="normal" >Alcohol_conversions</text>
<line x1="615.00" y1="401.56" x2="624.20" y2="401.56" stroke="#333" stroke-width="1.2"/>
<text x="614.40" y="405.16" font-size="12" text-anchor="end" fill="#262626" font-weight="normal" >T6SS</text>
<line x1="615.00" y1="412.42" x2="624.20" y2="412.42" stroke="#333" stroke-width="1.2"/>
<text x="614.40" y="416.02" font-size="12" text-anchor="end" fill="#262626" font-weight="normal" >B1_transporter</text>
<line x1="615.00" y1="423.28" x2="624.20" y2="423.28" stroke="#333" stroke-width="1.2"/>
<text x="614.40" y="426.88" font-size="12" text-anchor="end" fill="#262626" font-weight="normal" >B12_biosynthesis</text>
<line x1="615.00" y1="434.14" x2="624.20" y2="434.14" stroke="#333" stroke-width="1.2"/>
<text x="614.40" y="437.74" font-size="12" text-anchor="end" fill="#262626" font-weight="normal" >B3_metabolisms</text>
<line x1="615.00" y1="445.00" x2="624.20" y2="445.00" stroke="#333" stroke-width="1.2"/>
<text x="614.40" y="448.60" font-size="12" text-anchor="end" fill="#262626" font-weight="normal" >B7_transporter</text>
<line x1="623.60" y1="451.60" x2="685.00" y2="451.60" stroke="#000" stroke-width="1.6"/>
<rect x="627.30" y="453.00" width="18.60" height="9.40" fill="#6a8cc8" stroke="#333" stroke-width="1"/>
<rect x="645.90" y="453.00" width="18.60" height="9.40" fill="#7d0d1d" stroke="#333" stroke-width="1"/>
<rect x="664.50" y="453.00" width="18.60" height="9.40" fill="#68b868" stroke="#333" stroke-width="1"/>
<text x="474.60" y="327.60" font-size="12" text-anchor="start" fill="#1a1a1a" font-weight="normal" >Attachment</text>
<line x1="543.10" y1="309.20" x2="543.10" y2="339.00" stroke="#000" stroke-width="1.3"/>
<text x="464.40" y="369.80" font-size="12" text-anchor="start" fill="#1a1a1a" font-weight="normal" >Motility</text>
<line x1="508.10" y1="353.30" x2="508.10" y2="372.70" stroke="#000" stroke-width="1.3"/>
<text x="455.50" y="430.70" font-size="12" text-anchor="start" fill="#1a1a1a" font-weight="normal" >Vitamins</text>
<line x1="508.10" y1="408.50" x2="508.10" y2="447.30" stroke="#000" stroke-width="1.3"/>
<text x="259.80" y="442.20" font-size="12" text-anchor="start" fill="#1a1a1a" font-weight="normal" >Genome %</text>
<defs><linearGradient id="cb" x1="0" x2="1" y1="0" y2="0"><stop offset="0.0%" stop-color="#0a3a6a"/><stop offset="4.2%" stop-color="#005a91"/><stop offset="9.9%" stop-color="#0374ad"/><stop offset="18.3%" stop-color="#0a8fc4"/><stop offset="22.5%" stop-color="#2aa0cf"/><stop offset="25.4%" stop-color="#6cb5d8"/><stop offset="28.2%" stop-color="#8dc3df"/><stop offset="35.2%" stop-color="#b9d4e2"/><stop offset="43.7%" stop-color="#dde5eb"/><stop offset="49.3%" stop-color="#eef0f1"/><stop offset="52.8%" stop-color="#f3eeed"/><stop offset="57.0%" stop-color="#efd9d5"/><stop offset="62.0%" stop-color="#e9bfb9"/><stop offset="66.2%" stop-color="#e0a89f"/><stop offset="71.8%" stop-color="#d98a7e"/><stop offset="78.2%" stop-color="#d46f5c"/><stop offset="81.7%" stop-color="#d4582f"/><stop offset="83.8%" stop-color="#c9432a"/><stop offset="86.6%" stop-color="#b22a26"/><stop offset="92.3%" stop-color="#952020"/><stop offset="100.0%" stop-color="#6e1212"/></linearGradient></defs>
<rect x="334.2" y="429.8" width="86.6" height="16.1" fill="url(#cb)"/>
<text x="332.80" y="456.80" font-size="10" text-anchor="middle" fill="#1a1a1a" font-weight="normal" >0</text>
<line x1="359.00" y1="429.80" x2="359.00" y2="432.60" stroke="#fff" stroke-width="0.8"/>
<line x1="359.00" y1="443.10" x2="359.00" y2="445.90" stroke="#fff" stroke-width="0.8"/>
<text x="359.00" y="456.80" font-size="10" text-anchor="middle" fill="#1a1a1a" font-weight="normal" >20</text>
<line x1="383.40" y1="429.80" x2="383.40" y2="432.60" stroke="#fff" stroke-width="0.8"/>
<line x1="383.40" y1="443.10" x2="383.40" y2="445.90" stroke="#fff" stroke-width="0.8"/>
<text x="383.40" y="456.80" font-size="10" text-anchor="middle" fill="#1a1a1a" font-weight="normal" >40</text>
<line x1="407.80" y1="429.80" x2="407.80" y2="432.60" stroke="#fff" stroke-width="0.8"/>
<line x1="407.80" y1="443.10" x2="407.80" y2="445.90" stroke="#fff" stroke-width="0.8"/>
<text x="407.80" y="456.80" font-size="10" text-anchor="middle" fill="#1a1a1a" font-weight="normal" >60</text></svg>
</body></html>
